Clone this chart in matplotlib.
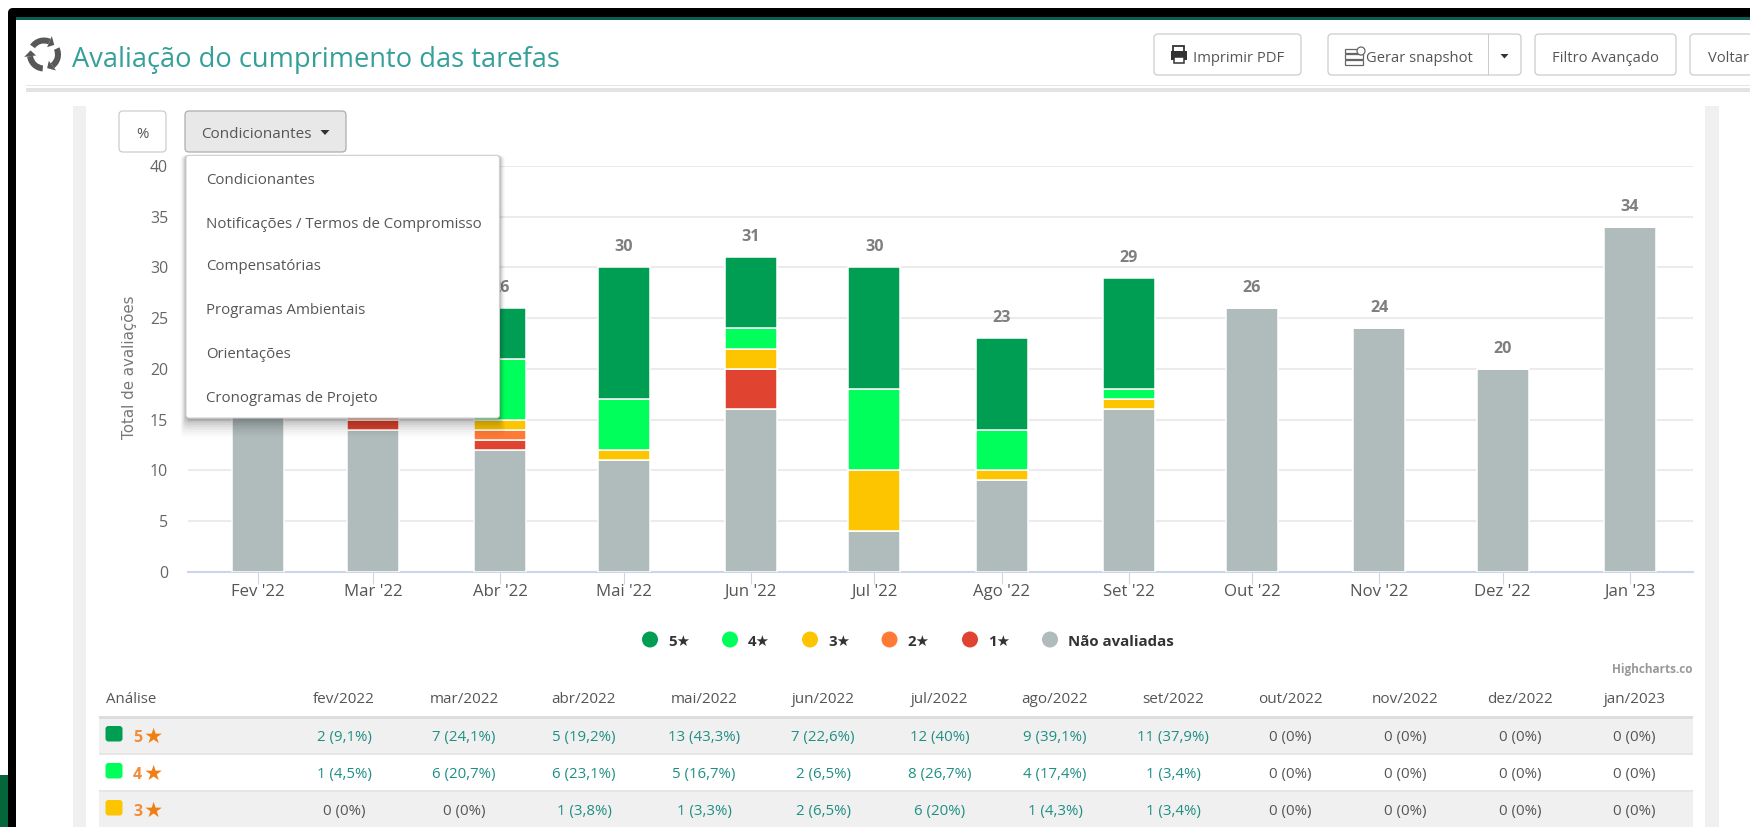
import matplotlib
matplotlib.use("Agg")
import math
import matplotlib.pyplot as plt
import matplotlib.dates as mdates
from matplotlib.patches import FancyBboxPatch, Rectangle, Wedge, Circle, Polygon
from matplotlib.transforms import Bbox
from datetime import date

W, H = 1750, 827
FONT = "Open Sans"

# ---------- data ----------
months = [date(2022, 2, 1), date(2022, 3, 1), date(2022, 4, 1), date(2022, 5, 1),
          date(2022, 6, 1), date(2022, 7, 1), date(2022, 8, 1), date(2022, 9, 1),
          date(2022, 10, 1), date(2022, 11, 1), date(2022, 12, 1), date(2023, 1, 1)]
month_labels = ["Fev '22", "Mar '22", "Abr '22", "Mai '22", "Jun '22", "Jul '22",
                "Ago '22", "Set '22", "Out '22", "Nov '22", "Dez '22", "Jan '23"]
table_months = ["fev/2022", "mar/2022", "abr/2022", "mai/2022", "jun/2022", "jul/2022",
                "ago/2022", "set/2022", "out/2022", "nov/2022", "dez/2022", "jan/2023"]
nao_avaliadas = [19, 14, 12, 11, 16, 4, 9, 16, 26, 24, 20, 34]
star1 = [0, 1, 1, 0, 4, 0, 0, 0, 0, 0, 0, 0]
star2 = [0, 1, 1, 0, 0, 0, 0, 0, 0, 0, 0, 0]
star3 = [0, 0, 1, 1, 2, 6, 1, 1, 0, 0, 0, 0]
star4 = [1, 6, 6, 5, 2, 8, 4, 1, 0, 0, 0, 0]
star5 = [2, 7, 5, 13, 7, 12, 9, 11, 0, 0, 0, 0]
series_names = ["5★", "4★", "3★", "2★", "1★", "Não avaliadas"]
row5 = ["2 (9,1%)", "7 (24,1%)", "5 (19,2%)", "13 (43,3%)", "7 (22,6%)", "12 (40%)",
        "9 (39,1%)", "11 (37,9%)", "0 (0%)", "0 (0%)", "0 (0%)", "0 (0%)"]
row4 = ["1 (4,5%)", "6 (20,7%)", "6 (23,1%)", "5 (16,7%)", "2 (6,5%)", "8 (26,7%)",
        "4 (17,4%)", "1 (3,4%)", "0 (0%)", "0 (0%)", "0 (0%)", "0 (0%)"]
row3 = ["0 (0%)", "0 (0%)", "1 (3,8%)", "1 (3,3%)", "2 (6,5%)", "6 (20%)",
        "1 (4,3%)", "1 (3,4%)", "0 (0%)", "0 (0%)", "0 (0%)", "0 (0%)"]
menu_items = ["Condicionantes", "Notificações / Termos de Compromisso", "Compensatórias",
              "Programas Ambientais", "Orientações", "Cronogramas de Projeto"]

# ---------- colours ----------
C5, C4, C3, C2, C1, CG = "#009E52", "#00FF5A", "#FCC500", "#FF7A35", "#E04330", "#B0BBBB"
TEAL = "#1F8F84"
TXT = "#555555"

fig = plt.figure(figsize=(W / 100, H / 100), dpi=100, facecolor="white")


def overlay(z):
    a = fig.add_axes([0, 0, 1, 1], zorder=z)
    a.set_xlim(0, W)
    a.set_ylim(H, 0)
    a.axis("off")
    a.patch.set_alpha(0)
    return a


bg = overlay(0)
top = overlay(5)


def T(ax, x, y, s, px=14.5, color=TXT, ha="left", weight="normal", family=FONT, **kw):
    return ax.text(x, y, s, fontsize=px * 0.72, color=color, ha=ha, va="center_baseline",
                   fontweight=weight, family=family, **kw)


def R(ax, x0, y0, x1, y1, fc, ec="none", lw=0, z=1, **kw):
    p = Rectangle((x0, y0), x1 - x0, y1 - y0, facecolor=fc, edgecolor=ec, linewidth=lw, zorder=z, **kw)
    ax.add_patch(p)
    return p


def RR(ax, x0, y0, x1, y1, fc="white", ec="#CCCCCC", lw=0.9, r=4, z=2, **kw):
    p = FancyBboxPatch((x0 + r, y0 + r), x1 - x0 - 2 * r, y1 - y0 - 2 * r,
                       boxstyle=f"round,pad={r},rounding_size={r}", facecolor=fc, edgecolor=ec,
                       linewidth=lw, zorder=z, **kw)
    ax.add_patch(p)
    return p


# ---------- window frame ----------
R(bg, 0, 775, 8, H, "#04663A")
RR(bg, 8, 8, 30, 30, fc="black", ec="none", lw=0, r=5, z=1)
R(bg, 8, 20, 16, H, "black", z=1)
R(bg, 14, 8, W, 17, "black", z=1)
R(bg, 16, 17, W, 20, "#0A5F55", z=1.1)
R(bg, 16, 20, 40, 34, "white", z=1.1)
R(bg, 26, 85, W, 86.3, "#E6E6E6")
R(bg, 26, 88, W, 92, "#E3E3E3")
R(bg, 72.5, 106, 85.5, H, "#F0F0F0")
R(bg, 1705, 106, 1719, H, "#F0F0F0")

# ---------- title + icon ----------
icx, icy = 44, 54.5
ICON = "#585858"
for a0 in (-25, 95, 215):
    a1 = a0 + 78
    bg.add_patch(Wedge((icx, icy), 17, a0, a1, width=6, facecolor=ICON, edgecolor="none", zorder=3))
    t0, t1 = math.radians(a1), math.radians(a1 + 24)
    pts = [(icx + 8 * math.cos(t0), icy + 8 * math.sin(t0)),
           (icx + 20 * math.cos(t0), icy + 20 * math.sin(t0)),
           (icx + 14 * math.cos(t1), icy + 14 * math.sin(t1))]
    bg.add_patch(Polygon(pts, facecolor=ICON, edgecolor="none", zorder=3))
T(bg, 72, 57, "Avaliação do cumprimento das tarefas", px=27.2, color="#35A09A")

# ---------- top buttons ----------
RR(bg, 1154, 34, 1301, 75)
RR(bg, 1328, 34, 1521, 75)
R(bg, 1487.5, 34, 1488.5, 75, "#CCCCCC", z=3)
RR(bg, 1535, 34, 1676, 75)
RR(bg, 1690, 34, 1765, 75)
R(bg, 1173, 46, 1184, 52, "white", ec="#333333", lw=1.3, z=3)
R(bg, 1171, 51, 1187, 60, "#333333", z=3)
R(bg, 1174, 57, 1184, 63, "white", ec="#333333", lw=1.1, z=3)
T(bg, 1193, 56, "Imprimir PDF", px=14.7)
R(bg, 1345, 49, 1363, 53, "white", ec="#666666", lw=0.9, z=3)
R(bg, 1345, 54, 1363, 59, "white", ec="#666666", lw=0.9, z=3)
R(bg, 1345, 60, 1363, 65, "white", ec="#666666", lw=0.9, z=3)
bg.add_patch(Circle((1361, 51), 4, facecolor="white", edgecolor="#666666", linewidth=0.9, zorder=3.1))
T(bg, 1366, 56, "Gerar snapshot", px=14.7)
bg.add_patch(Polygon([(1500.5, 54), (1508.5, 54), (1504.5, 58.5)], facecolor="#333333", zorder=3))
T(bg, 1605.5, 56, "Filtro Avançado", px=14.7, ha="center")
T(bg, 1708, 56, "Voltar", px=14.7)

# ---------- chart-control buttons ----------
RR(bg, 119, 111, 166, 152)
T(bg, 142.5, 132, "%", px=15, ha="center")
RR(bg, 185, 111, 346, 152, fc="#E8E8E8", ec="#ADADAD")
T(bg, 201.5, 132, "Condicionantes", px=15.2)
bg.add_patch(Polygon([(320.5, 130), (329.5, 130), (325, 135)], facecolor="#333333", zorder=3))

# ---------- chart ----------
ax = fig.add_axes([187.5 / W, 1 - 571.8 / H, (1692.5 - 187.5) / W, (571.8 - 166) / H], zorder=2)
ax.patch.set_alpha(0)
x = [mdates.date2num(d) for d in months]
PX_DAY = (1630 - 258) / (x[-1] - x[0])
ax.set_xlim(x[0] - (258 - 187.5) / PX_DAY, x[0] + (1692.5 - 258) / PX_DAY)
ax.set_ylim(0, 40)
bar_w = 52 / PX_DAY
bottom = [0] * 12
for vals, col in [(nao_avaliadas, CG), (star1, C1), (star2, C2), (star3, C3), (star4, C4), (star5, C5)]:
    ax.bar(x, vals, width=bar_w, bottom=bottom, color=col, edgecolor="white", linewidth=1.1, zorder=3)
    bottom = [b + v for b, v in zip(bottom, vals)]
for xi, tot in zip(x, bottom):
    ax.annotate(str(tot), (xi, tot), xytext=(0, 12), textcoords="offset pixels", ha="center",
                va="bottom", fontsize=11.6, color="#7F7F7F", fontweight="bold", family=FONT, zorder=4,
                annotation_clip=False)
for s in ["top", "left", "right"]:
    ax.spines[s].set_visible(False)
ax.spines["bottom"].set_color("#CCD6EB")
ax.spines["bottom"].set_linewidth(1.5)
ax.set_yticks(range(0, 41, 5))
ax.grid(axis="y", color="#EBEBEB", linewidth=1.5, zorder=0)
ax.tick_params(axis="y", length=0, pad=14, labelsize=11.4, labelcolor="#666666")
ax.set_xticks(x)
ax.set_xticklabels(month_labels)
ax.tick_params(axis="x", length=8.5, width=0.8, color="#CCD6EB", pad=0.5, labelsize=12.1, labelcolor="#555555")
for l in ax.get_xticklabels() + ax.get_yticklabels():
    l.set_family(FONT)
T(bg, 128, 367, "Total de avaliações", px=15, color="#777777", ha="center", rotation=90,
  family="DejaVu Sans", rotation_mode="anchor")

# ---------- legend ----------
leg_x = [650, 730, 810, 889.5, 970, 1050]
for lx, name, col in zip(leg_x, series_names, [C5, C4, C3, C2, C1, CG]):
    bg.add_patch(Circle((lx, 639.5), 8, facecolor=col, edgecolor="none", zorder=3))
    T(bg, lx + 18, 640, name, px=15, color="#333333", weight="bold",
      family=[FONT, "DejaVu Sans"])
hc = T(bg, 1612, 668.5, "Highcharts.com", px=11.8, color="#999999", weight="bold")
hc.set_clip_on(True)
hc.set_clip_box(Bbox([[1500, 0], [1692.5, 827]]))

# ---------- table ----------
col_x = [344, 464, 584, 704, 823, 940, 1055, 1173, 1290, 1405, 1520, 1634.5]
T(bg, 105.5, 697.5, "Análise", px=15)
for cx, m in zip(col_x, table_months):
    T(bg, cx, 697.5, m, px=15.3, ha="center")
R(bg, 99, 716, 1692.5, 718.5, "#DDDDDD")
R(bg, 99, 718.5, 1692.5, 753, "#F0F0F0")
R(bg, 99, 753, 1692.5, 754.5, "#E6E6E6")
R(bg, 99, 790, 1692.5, 791.5, "#E6E6E6")
R(bg, 99, 791.5, 1692.5, H, "#F0F0F0")
for ry, rows, col, lab in [(735.5, row5, C5, "5"), (772.5, row4, C4, "4"), (809.5, row3, C3, "3")]:
    RR(bg, 105.5, ry - 9.5, 122.5, ry + 6, fc=col, ec="none", lw=0, r=3)
    T(bg, 133, ry + 0.5, lab, px=16, color="#F28C38", weight="bold")
    T(bg, 144, ry - 0.5, "★", px=21.5, color="#F07F13", family="DejaVu Sans")
    for cx, v in zip(col_x, rows):
        T(bg, cx, ry, v, px=15, ha="center", color="#555555" if v.startswith("0 ") else TEAL)

# ---------- dropdown menu ----------
for i, al in zip(range(8, 0, -1), [.015, .02, .025, .03, .04, .05, .06, .08]):
    RR(top, 186 - i * 0.7, 155.3, 499.5 + i * 0.7, 418 + i * 2.4, fc="black", ec="none", lw=0, r=5, z=1, alpha=al)
RR(top, 186, 155.3, 499.5, 418, fc="white", ec="#CFCFCF", lw=0.8, r=3, z=2)
for my, item in zip([178, 222, 265, 309, 353, 397], menu_items):
    T(top, 206, my, item, px=15, color="#555555", zorder=3)

fig.savefig("out.png", dpi=100, facecolor="white")
